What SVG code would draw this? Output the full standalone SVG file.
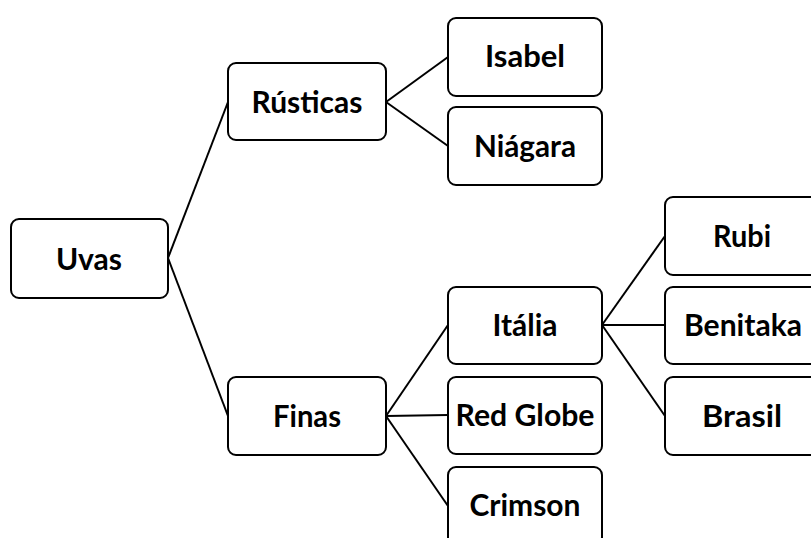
<svg xmlns="http://www.w3.org/2000/svg" width="811" height="538" viewBox="0 0 811 538">
  <style>
    .box { fill: #ffffff; stroke: #000000; stroke-width: 2; }
    .lbl { font-family: "Lato", "Liberation Sans", sans-serif; font-weight: bold; font-size: 31px; fill: #000000; text-anchor: middle; }
    .edge { stroke: #000000; stroke-width: 2; fill: none; }
  </style>
  <rect width="811" height="538" fill="#ffffff"/>

  <!-- connectors -->
  <g id="connectors">
    <line class="edge" x1="168" y1="258" x2="228" y2="102"/>
    <line class="edge" x1="168" y1="258" x2="228" y2="416"/>
    <line class="edge" x1="386" y1="102" x2="448" y2="57"/>
    <line class="edge" x1="386" y1="102" x2="448" y2="146"/>
    <line class="edge" x1="386" y1="416" x2="448" y2="325"/>
    <line class="edge" x1="386" y1="416" x2="448" y2="415"/>
    <line class="edge" x1="386" y1="416" x2="448" y2="506"/>
    <line class="edge" x1="602" y1="325" x2="665" y2="236"/>
    <line class="edge" x1="602" y1="325" x2="665" y2="325"/>
    <line class="edge" x1="602" y1="325" x2="665" y2="416"/>
  </g>

  <g id="uvas">
    <rect class="box" x="11" y="219" width="157" height="79" rx="8"/>
    <text class="lbl" x="89" y="270" textLength="66" lengthAdjust="spacingAndGlyphs">Uvas</text>
  </g>
  <g id="rusticas">
    <rect class="box" x="228" y="63" width="158" height="77" rx="8"/>
    <text class="lbl" x="307" y="113" textLength="111" lengthAdjust="spacingAndGlyphs">Rústicas</text>
  </g>
  <g id="finas">
    <rect class="box" x="228" y="377" width="158" height="78" rx="8"/>
    <text class="lbl" x="307" y="427" textLength="68" lengthAdjust="spacingAndGlyphs">Finas</text>
  </g>
  <g id="isabel">
    <rect class="box" x="448" y="18" width="154" height="78" rx="8"/>
    <text class="lbl" x="525" y="67" textLength="80" lengthAdjust="spacingAndGlyphs">Isabel</text>
  </g>
  <g id="niagara">
    <rect class="box" x="448" y="107" width="154" height="78" rx="8"/>
    <text class="lbl" x="525" y="157" textLength="102" lengthAdjust="spacingAndGlyphs">Niágara</text>
  </g>
  <g id="italia">
    <rect class="box" x="448" y="287" width="154" height="77" rx="8"/>
    <text class="lbl" x="525" y="336" textLength="65" lengthAdjust="spacingAndGlyphs">Itália</text>
  </g>
  <g id="redglobe">
    <rect class="box" x="448" y="377" width="154" height="77" rx="8"/>
    <text class="lbl" x="525" y="426" textLength="139" lengthAdjust="spacingAndGlyphs">Red Globe</text>
  </g>
  <g id="crimson">
    <rect class="box" x="448" y="467" width="154" height="78" rx="8"/>
    <text class="lbl" x="525" y="516" textLength="111" lengthAdjust="spacingAndGlyphs">Crimson</text>
  </g>
  <g id="rubi">
    <rect class="box" x="665" y="197" width="154" height="78" rx="8"/>
    <text class="lbl" x="742" y="247" textLength="58" lengthAdjust="spacingAndGlyphs">Rubi</text>
  </g>
  <g id="benitaka">
    <rect class="box" x="665" y="287" width="154" height="77" rx="8"/>
    <text class="lbl" x="743" y="336" textLength="118" lengthAdjust="spacingAndGlyphs">Benitaka</text>
  </g>
  <g id="brasil">
    <rect class="box" x="665" y="377" width="154" height="78" rx="8"/>
    <text class="lbl" x="742" y="427" textLength="80" lengthAdjust="spacingAndGlyphs">Brasil</text>
  </g>
</svg>
